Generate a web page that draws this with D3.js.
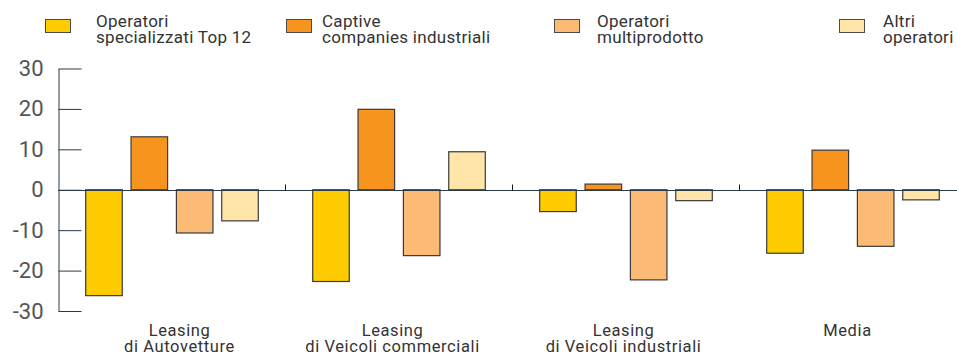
<!DOCTYPE html>
<html>
<head>
<meta charset="utf-8">
<script src="https://cdn.jsdelivr.net/npm/d3@7"></script>
<style>
    body { margin: 0; background: #fff; }
    text { font-family: Roboto, sans-serif; }
</style>
</head>
<body>
<script>
const categories = [
    ['Leasing', 'di Autovetture'],
    ['Leasing', 'di Veicoli commerciali'],
    ['Leasing', 'di Veicoli industriali'],
    ['Media']
];
const seriesNames = [
    ['Operatori', 'specializzati Top 12'],
    ['Captive', 'companies industriali'],
    ['Operatori', 'multiprodotto'],
    ['Altri', 'operatori']
];
const topSpecialisti = [-26.2, -22.7, -5.4, -15.7];
const captive = [13.1, 19.9, 1.4, 9.8];
const multiprodotto = [-10.7, -16.3, -22.3, -14.0];
const altri = [-7.7, 9.4, -2.7, -2.5];
const yTicks = [30, 20, 10, 0, -10, -20, -30];

const colors = ['#ffcc00', '#f7941d', '#fbba75', '#ffe6a8'];
const series = [topSpecialisti, captive, multiprodotto, altri];

const width = 957;
const height = 354;

const svg = d3.select('body')
    .append('svg')
    .attr('width', width)
    .attr('height', height);

const catKeys = categories.map((c, i) => i);

const x = d3.scaleBand()
    .domain(catKeys)
    .range([58, 966]);
const x1 = d3.scaleBand()
    .domain(series.map((s, i) => i))
    .range([0, x.bandwidth()])
    .paddingInner(0.194)
    .paddingOuter(0.6);
const y = d3.scaleLinear()
    .domain([-30, 30])
    .range([311, 68.5]);

// legend: swatch and text positions differ per entry in the original
const swatchX = [45, 286, 554, 839];
const legendTextX = [96, 322, 597, 883];
const legend = svg.selectAll('g.legend')
    .data(seriesNames)
    .enter()
    .append('g')
    .attr('class', 'legend');
legend.append('rect')
    .attr('x', (d, i) => swatchX[i] + 0.5)
    .attr('y', 19.5)
    .attr('width', 25)
    .attr('height', 13)
    .attr('fill', (d, i) => colors[i])
    .attr('stroke', '#4a4a4a')
    .attr('stroke-width', 1);
legend.append('text')
    .attr('y', 27)
    .attr('font-size', 17)
    .attr('letter-spacing', 0.3)
    .attr('fill', '#333')
    .selectAll('tspan')
    .data((d, li) => d.map(t => ({ t, li })))
    .enter()
    .append('tspan')
    .attr('x', d => legendTextX[d.li])
    .attr('dy', (d, i) => i === 0 ? 0 : 16)
    .text(d => d.t);

// y axis
const yAxis = d3.axisLeft(y)
    .tickValues(yTicks)
    .tickSizeInner(-23)
    .tickSizeOuter(0)
    .tickPadding(15)
    .tickFormat(d => d < 0 ? '-' + Math.abs(d) : d);
const gy = svg.append('g')
    .attr('transform', 'translate(58.5, 0)')
    .call(yAxis);
gy.select('.domain').attr('stroke', '#2b3a48');
gy.selectAll('.tick line').attr('stroke', '#2b3a48');
gy.selectAll('.tick text')
    .attr('font-size', 22)
    .attr('fill', '#555')
    .attr('font-family', 'Roboto, sans-serif');

// bars
const groups = svg.selectAll('g.cat')
    .data(catKeys)
    .enter()
    .append('g')
    .attr('class', 'cat')
    .attr('transform', d => `translate(${x(d)}, 0)`);
groups.selectAll('rect')
    .data(c => series.map((s, i) => ({ i, v: s[c] })))
    .enter()
    .append('rect')
    .attr('x', d => x1(d.i) + 0.5)
    .attr('y', d => Math.min(y(d.v), y(0)))
    .attr('width', x1.bandwidth())
    .attr('height', d => Math.abs(y(d.v) - y(0)))
    .attr('fill', d => colors[d.i])
    .attr('stroke', '#3a3a3a')
    .attr('stroke-width', 1.2);

// zero line and category separators
const y0 = Math.round(y(0)) + 0.5;
svg.append('line')
    .attr('x1', 58)
    .attr('x2', width)
    .attr('y1', y0)
    .attr('y2', y0)
    .attr('stroke', '#2b3a48')
    .attr('stroke-width', 1.2);
svg.selectAll('line.sep')
    .data(catKeys.slice(1))
    .enter()
    .append('line')
    .attr('class', 'sep')
    .attr('x1', d => Math.round(x(d)) + 0.5)
    .attr('x2', d => Math.round(x(d)) + 0.5)
    .attr('y1', y0)
    .attr('y2', y0 - 6)
    .attr('stroke', '#1a1a1a');

// category labels (slightly off-centre in the original)
const labelShift = [8, -6, -2, -5];
svg.selectAll('text.cat')
    .data(categories)
    .enter()
    .append('text')
    .attr('class', 'cat')
    .attr('text-anchor', 'middle')
    .attr('font-size', 16.5)
    .attr('letter-spacing', 0.6)
    .attr('fill', '#333')
    .attr('y', 336)
    .selectAll('tspan')
    .data((d, ci) => d.map(t => ({ t, ci })))
    .enter()
    .append('tspan')
    .attr('x', d => x(d.ci) + x.bandwidth() / 2 + labelShift[d.ci])
    .attr('dy', (d, i) => i === 0 ? 0 : 15.5)
    .text(d => d.t);
</script>
</body>
</html>
